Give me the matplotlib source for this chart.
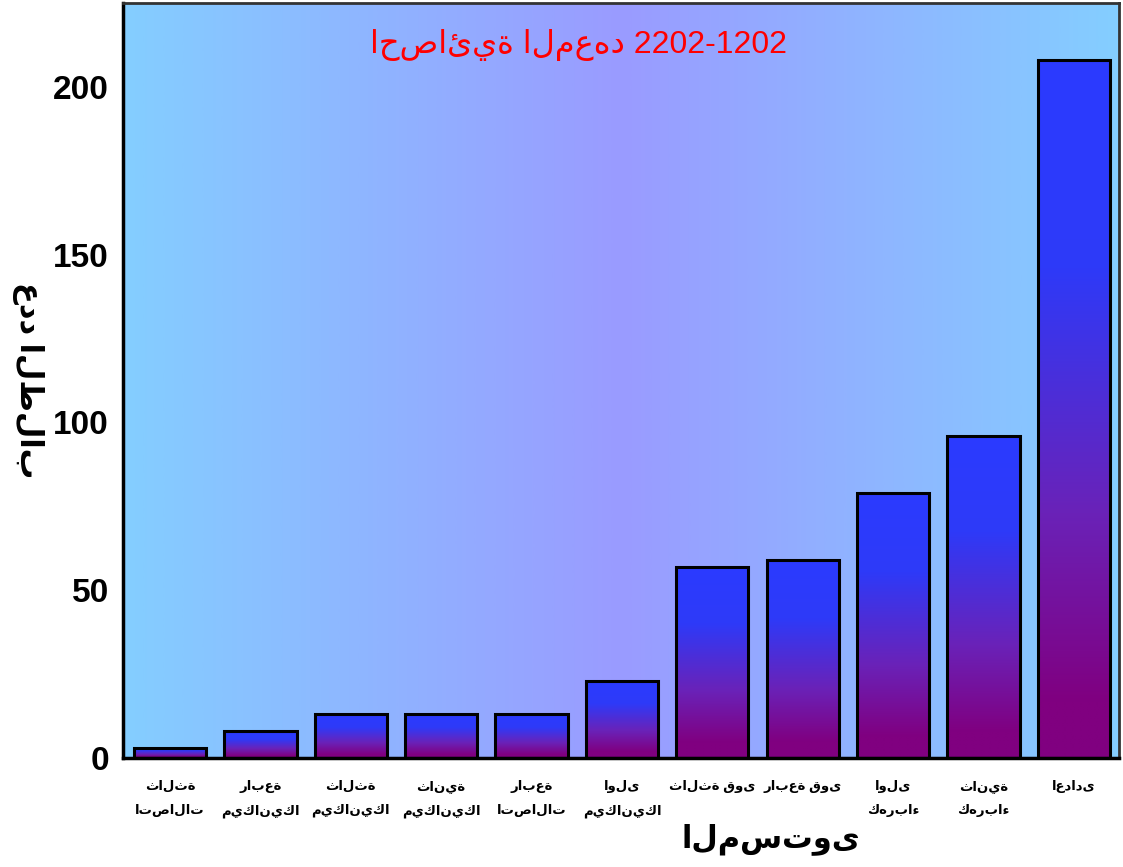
import numpy as np
import matplotlib
matplotlib.use("Agg")
import matplotlib.pyplot as plt
from matplotlib.colors import LinearSegmentedColormap

categories = ["ثالثة\nاتصالات", "رابعة\nميكانيكا", "ثالثة\nميكانيكا", "ثانية\nميكانيكا",
              "رابعة\nاتصالات", "اولى\nميكانيكا", "ثالثة قوى", "رابعة قوى",
              "اولى\nكهرباء", "ثانية\nكهرباء", "اعدادى"]
values = [3, 8, 13, 13, 13, 23, 57, 59, 79, 96, 208]
yticks = [0, 50, 100, 150, 200]
title = "احصائية المعهد 2202-1202"
xlabel = "المستوى"
ylabel = "عدد الطلاب"

FAM = ["Liberation Sans", "DejaVu Sans"]

fig = plt.figure(figsize=(11.23, 8.67), dpi=100)
fig.patch.set_facecolor("white")
ax = fig.add_axes([0.1095, 0.1257, 0.887, 0.871])

# background gradient (light sky blue at edges, periwinkle centre)
bg = LinearSegmentedColormap.from_list("bg", ["#84CEFF", "#9A9BFF", "#84CEFF"])
grad = np.linspace(0, 1, 512).reshape(1, -1)
ax.imshow(grad, cmap=bg, aspect="auto", extent=[0, 1, 0, 1],
          transform=ax.transAxes, zorder=0)

bars = ax.bar(range(len(values)), values, width=0.8, facecolor="none",
              edgecolor="black", linewidth=2.2, zorder=3)

barcm = LinearSegmentedColormap.from_list(
    "bar", [(0.0, "#2B3BFF"), (0.3, "#2E3AF8"), (0.65, "#6A22B8"), (0.92, "#800080"), (1.0, "#800080")])
vg = np.linspace(0, 1, 256).reshape(-1, 1)
for b in bars:
    x0, w, h = b.get_x(), b.get_width(), b.get_height()
    ax.imshow(vg, cmap=barcm, aspect="auto", extent=[x0, x0 + w, 0, h],
              origin="upper", zorder=2, interpolation="bilinear")

ax.set_xlim(-0.52, len(values) - 0.5)
ax.set_ylim(0, 225)

ax.set_yticks(yticks)
ax.set_yticklabels([str(t) for t in yticks], fontsize=24, fontweight="bold", family=FAM)
ax.set_xticks(range(len(values)))
ax.set_xticklabels(categories, fontsize=9.5, fontweight="bold", family=FAM, linespacing=2.1)
ax.tick_params(axis="both", length=0)
ax.tick_params(axis="y", pad=10)
ax.tick_params(axis="x", pad=16)

for s in ["left", "bottom"]:
    ax.spines[s].set_linewidth(2.5)
for s in ["top", "right"]:
    ax.spines[s].set_linewidth(2.0)
    ax.spines[s].set_color("#333333")

ax.set_xlabel(xlabel, fontsize=22, fontweight="bold", family=FAM, va="center")
ax.xaxis.set_label_coords(0.65, -0.108)
ax.set_ylabel(ylabel, fontsize=22, fontweight="bold", family=FAM, rotation=-90,
              va="center", ha="center")
ax.yaxis.set_label_coords(-0.095, 0.5)

fig.text(578 / 1123, 1 - 45 / 867, title, color="red", fontsize=23,
         ha="center", va="center", family=FAM)

fig.savefig("out.png", dpi=100)
